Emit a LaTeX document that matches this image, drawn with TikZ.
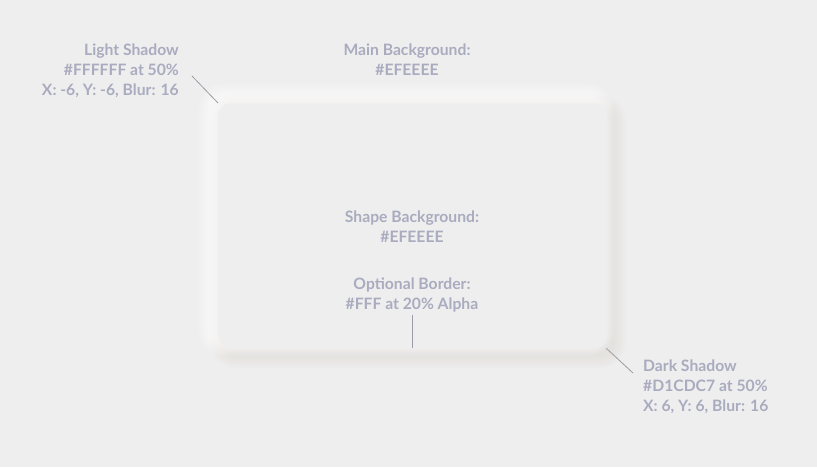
\documentclass[tikz,border=0pt]{standalone}
\usepackage{fontspec}
\setmainfont{Lato}
\definecolor{bg}{HTML}{EFEEEE}
\definecolor{txt}{HTML}{A9ABBF}
\definecolor{dsh}{HTML}{D1CDC7}
\definecolor{lnc}{HTML}{9C9CA6}
\tikzset{
  lbl/.style={text=txt, font=\bfseries\fontsize{15.7pt}{20pt}\selectfont, inner sep=0pt, align=center},
  lead/.style={draw=lnc, line width=0.8pt},
}
\begin{document}
\begin{tikzpicture}[x=1pt,y=-1pt]
\fill[bg] (0,0) rectangle (817,467);
\useasboundingbox (0,0) rectangle (817,467);
% dark shadow
\foreach \i in {1,...,10}{
  \fill[dsh, opacity=0.035, rounded corners={12+\i*1.4}] ({224-\i*1.4},{109-\i*1.4}) rectangle ({612+\i*1.4},{354+\i*1.4});
}
% light shadow
\foreach \i in {1,...,10}{
  \fill[white, opacity=0.1, rounded corners={12+\i*1.4}] ({212-\i*1.4},{97-\i*1.4}) rectangle ({600+\i*1.4},{342+\i*1.4});
}
\node[draw=white, draw opacity=0.2, fill=bg, rounded corners=12pt, minimum width=388pt, minimum height=245pt, inner sep=0pt, anchor=north west] (card) at (218,103) {};
\node[lbl, align=right, anchor=north east] (light) at (179,44) {Light Shadow\\\#FFFFFF at 50\%\\X: -6, Y: -6, Blur: 16};
\node[lbl, anchor=north] (main) at (407,44) {Main Background:\\\#EFEEEE};
\node[lbl, anchor=north] (shape) at (412,211) {Shape Background:\\\#EFEEEE};
\node[lbl, anchor=north] (border) at (412,278) {Optional Border:\\\#FFF at 20\% Alpha};
\node[lbl, align=left, anchor=north west] (dark) at (643,360) {Dark Shadow\\\#D1CDC7 at 50\%\\X: 6, Y: 6, Blur: 16};
\coordinate (l1) at (192,76);
\coordinate (d1) at (633,373);
\coordinate (b1) at (412,315);
\draw[lead] (l1) -- (card.north west);
\draw[lead] (card.south east) -- (d1);
\draw[lead] (b1) -- (b1 |- card.south);
\end{tikzpicture}
\end{document}
